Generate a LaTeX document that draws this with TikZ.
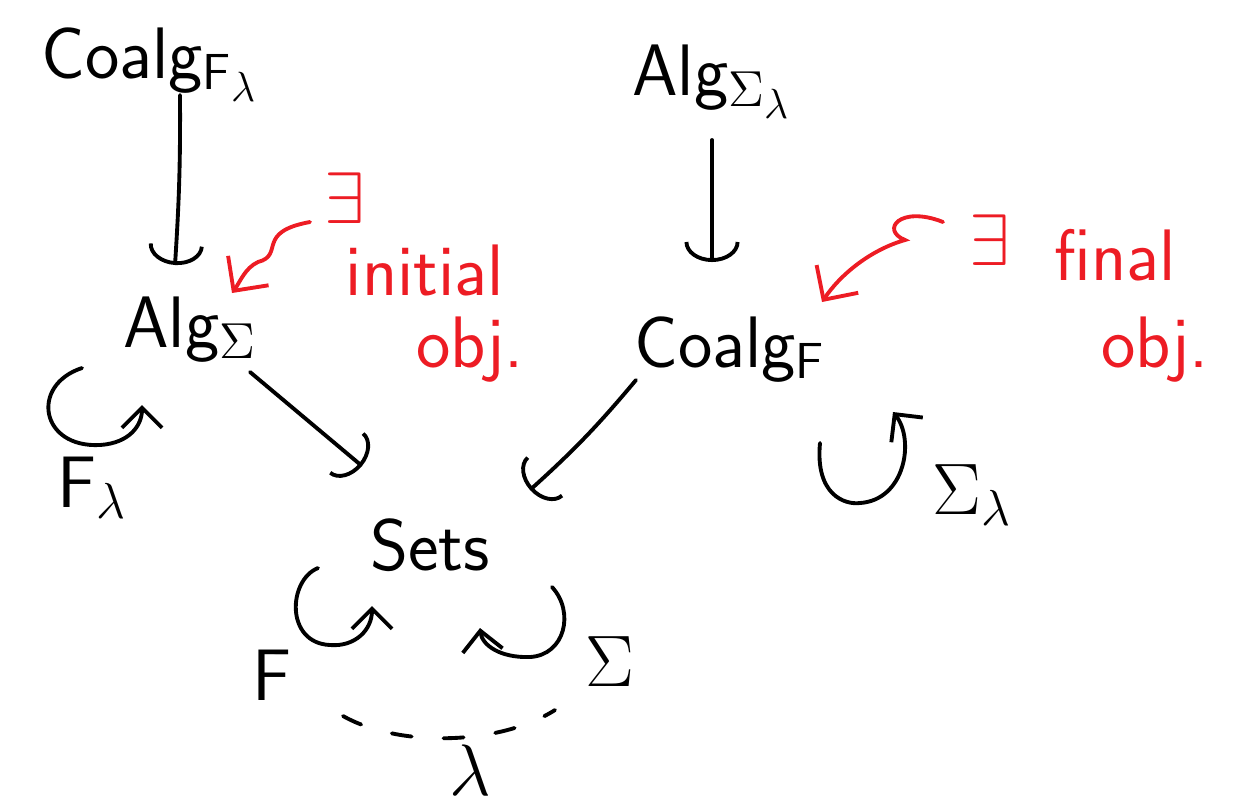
\documentclass[tikz,border=0pt]{standalone}
\usepackage{xcolor}
\usetikzlibrary{arrows.meta,calc}
\definecolor{inkred}{RGB}{237,28,36}
\begin{document}
\begin{tikzpicture}[x=0.01cm,y=-0.01cm, % 1 px = 0.01 cm, y vers le bas
  font=\huge\sffamily, line width=1.1pt, line cap=round,
  fun/.style={-{Arc Barb[length=2mm,width=5.5mm]}},
  endo/.style={-{Straight Barb[length=2mm,width=4mm]}},
  note/.style={text=inkred},
  hint/.style={-{Straight Barb[length=2.5mm,width=5mm]}, inkred}]

\useasboundingbox (0,0) rectangle (1249,811);

% --------- CATÉGORIES ----------
\node (cfl)  at (150,65)  {Coalg$_{\mathsf{F}_\lambda}$};
\node (asl)  at (712,82)  {Alg$_{\Sigma_\lambda}$};
\node (as)   at (190,330) {Alg$_{\Sigma}$};
\node (cf)   at (730,350) {Coalg$_{\mathsf{F}}$};
\node (sets) at (430,545) {Sets};
% --------------------------------

% Foncteurs d'oubli
\draw[fun] ($(cfl)+(30,30)$) to[bend left=2] ($(as)+(-15,-65)$);
\draw[fun] ($(asl)+(0,58)$) -- ($(cf)+(-18,-88)$);
\draw[fun] ($(as)+(60,42)$) -- ($(sets)+(-68,-79)$);
\draw[fun] ($(cf)+(-94,30)$) to[bend left=4] ($(sets)+(100,-55)$);

% Endofoncteurs (boucles)
\draw[endo] (82,368) .. controls (30,385) and (40,448) .. (100,445)
  .. controls (130,443) and (142,425) .. (142,405);
\node (fl) at (92,488) {$\mathsf{F}_\lambda$};

\draw[endo] (820,443) .. controls (815,495) and (845,505) .. (860,503)
  .. controls (905,500) and (915,440) .. (893,412);
\node (sl) at (972,495) {$\Sigma_\lambda$};

\draw[endo] (318,568) .. controls (288,580) and (285,643) .. (330,645)
  .. controls (355,647) and (372,630) .. (372,606);
\node (f) at (272,675) {$\mathsf{F}$};

\draw[endo] (552,587) .. controls (575,612) and (565,655) .. (530,657)
  .. controls (500,658) and (482,645) .. (480,628);
\node (s) at (610,662) {$\Sigma$};

% Loi distributive
\draw[dash pattern=on 0.2cm off 0.32cm] (343,716) .. controls (400,748) and (500,745) .. (555,710);
\node[inner sep=1pt] (l) at (470,770) {$\lambda$};

% Objets initial / final
\node[note] (ex1) at (345,198) {$\exists$};
\node[note] (ini) at (425,270) {initial};
\node[note] (ob1) at (470,350) {obj.};
\draw[hint] (310,222) .. controls (255,232) and (285,255) .. (258,262)
  .. controls (245,268) and (240,282) .. (232,293);

\node[note] (ex2) at (990,240) {$\exists$};
\node[note] (fin) at (1115,255) {final};
\node[note] (ob2) at (1155,350) {obj.};
\draw[hint] (943,222) .. controls (900,205) and (880,230) .. (905,240)
  .. controls (870,250) and (840,275) .. (822,302);

\end{tikzpicture}
\end{document}
